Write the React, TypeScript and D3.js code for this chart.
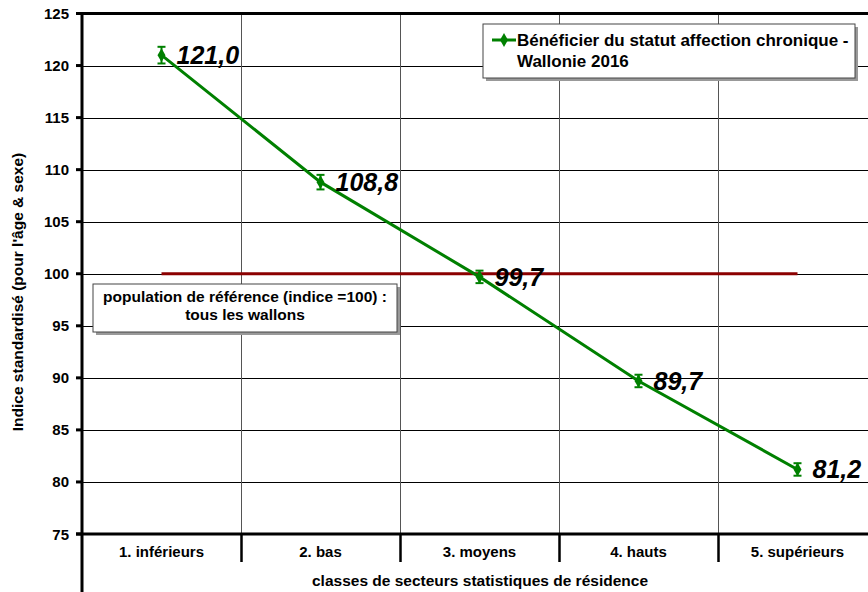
import * as d3 from "d3";
import { useEffect, useRef } from "react";

const categories = ["1. inférieurs", "2. bas", "3. moyens", "4. hauts", "5. supérieurs"];
const values = [121.0, 108.8, 99.7, 89.7, 81.2];
const errors = [0.8, 0.7, 0.6, 0.6, 0.6];
const yTicks = [75, 80, 85, 90, 95, 100, 105, 110, 115, 120, 125];
const refValue = 100;
const seriesName = ["Bénéficier du statut affection chronique -", "Wallonie 2016"];
const refNote = ["population de référence (indice =100) :", "tous les wallons"];

const FONT = "'Liberation Sans', Arial, sans-serif";
const GREEN = "#008000";
const DARKRED = "#8b0000";

export default function App() {
  const ref = useRef<SVGSVGElement | null>(null);

  useEffect(() => {
    const el = ref.current;
    if (!el) return;
    const svg = d3.select(el);
    svg.selectAll("*").remove();

    const W = 868;
    const H = 592;
    const left = 82;
    const top = 13.5;
    const right = 877;
    const bottom = 534;

    const x = d3.scaleBand<string>().domain(categories).range([left, right]);
    const y = d3.scaleLinear().domain([75, 125]).range([bottom, top]);
    const cx = (c: string) => (x(c) ?? 0) + x.bandwidth() / 2;

    svg.attr("viewBox", `0 0 ${W} ${H}`).attr("width", W).attr("height", H);
    svg.append("rect").attr("width", W).attr("height", H).attr("fill", "#fff");

    // horizontal grid
    svg
      .append("g")
      .attr("shape-rendering", "crispEdges")
      .selectAll("line")
      .data(yTicks)
      .join("line")
      .attr("x1", left)
      .attr("x2", W)
      .attr("y1", (d) => Math.round(y(d)) + 0.5)
      .attr("y2", (d) => Math.round(y(d)) + 0.5)
      .attr("stroke", "#000")
      .attr("stroke-width", 1);

    // vertical grid at category boundaries
    const bounds = categories.slice(1).map((c) => Math.round(x(c) ?? 0) + 0.5);
    svg
      .append("g")
      .attr("shape-rendering", "crispEdges")
      .selectAll("line")
      .data(bounds)
      .join("line")
      .attr("x1", (d) => d)
      .attr("x2", (d) => d)
      .attr("y1", top)
      .attr("y2", bottom)
      .attr("stroke", "#555")
      .attr("stroke-width", 1);

    // category dividers below axis
    svg
      .append("g")
      .selectAll("line")
      .data(bounds)
      .join("line")
      .attr("x1", (d) => d)
      .attr("x2", (d) => d)
      .attr("y1", bottom)
      .attr("y2", 562)
      .attr("stroke", "#000")
      .attr("stroke-width", 2.5);

    // frame lines
    svg.append("line").attr("x1", left).attr("x2", W).attr("y1", top).attr("y2", top)
      .attr("stroke", "#000").attr("stroke-width", 3);
    svg.append("line").attr("x1", left - 6).attr("x2", W).attr("y1", bottom).attr("y2", bottom)
      .attr("stroke", "#000").attr("stroke-width", 3);
    svg.append("line").attr("x1", left).attr("x2", left).attr("y1", top - 1.5).attr("y2", H)
      .attr("stroke", "#000").attr("stroke-width", 3);

    // y ticks
    const yg = svg.append("g");
    yg.selectAll("line")
      .data(yTicks)
      .join("line")
      .attr("x1", left - 6)
      .attr("x2", left)
      .attr("y1", (d) => y(d))
      .attr("y2", (d) => y(d))
      .attr("stroke", "#000")
      .attr("stroke-width", 3);
    yg.selectAll("text")
      .data(yTicks)
      .join("text")
      .attr("x", 69)
      .attr("y", (d) => y(d) + 5.5)
      .attr("text-anchor", "end")
      .attr("font-family", FONT)
      .attr("font-weight", "bold")
      .attr("font-size", 15)
      .text((d) => d);

    // category labels
    svg
      .append("g")
      .selectAll("text")
      .data(categories)
      .join("text")
      .attr("x", (d) => cx(d))
      .attr("y", 557)
      .attr("text-anchor", "middle")
      .attr("font-family", FONT)
      .attr("font-weight", "bold")
      .attr("font-size", 15)
      .text((d) => d);

    svg.append("text")
      .attr("x", 480)
      .attr("y", 586)
      .attr("text-anchor", "middle")
      .attr("font-family", FONT)
      .attr("font-weight", "bold")
      .attr("font-size", 15.5)
      .text("classes de secteurs statistiques de résidence");

    svg.append("text")
      .attr("transform", `translate(23,292) rotate(-90)`)
      .attr("text-anchor", "middle")
      .attr("font-family", FONT)
      .attr("font-weight", "bold")
      .attr("font-size", 15.5)
      .text("Indice standardisé (pour l'âge & sexe)");

    // reference line
    svg.append("line")
      .attr("x1", cx(categories[0]))
      .attr("x2", cx(categories[categories.length - 1]))
      .attr("y1", y(refValue))
      .attr("y2", y(refValue))
      .attr("stroke", DARKRED)
      .attr("stroke-width", 3);

    // series line
    const pts = categories.map((c, i) => ({ c, v: values[i], e: errors[i] }));
    const line = d3.line<{ c: string; v: number }>().x((d) => cx(d.c)).y((d) => y(d.v));
    svg.append("path")
      .datum(pts)
      .attr("d", line)
      .attr("fill", "none")
      .attr("stroke", GREEN)
      .attr("stroke-width", 3);

    // error bars
    const eg = svg.append("g").attr("stroke", GREEN).attr("stroke-width", 2);
    pts.forEach((p) => {
      const px = cx(p.c);
      eg.append("line").attr("x1", px).attr("x2", px).attr("y1", y(p.v + p.e)).attr("y2", y(p.v - p.e));
      eg.append("line").attr("x1", px - 4).attr("x2", px + 4).attr("y1", y(p.v + p.e)).attr("y2", y(p.v + p.e));
      eg.append("line").attr("x1", px - 4).attr("x2", px + 4).attr("y1", y(p.v - p.e)).attr("y2", y(p.v - p.e));
    });

    const diamond = d3.symbol().type(d3.symbolDiamond).size(55);
    svg.append("g")
      .selectAll("path")
      .data(pts)
      .join("path")
      .attr("d", diamond)
      .attr("transform", (d) => `translate(${cx(d.c)},${y(d.v)})`)
      .attr("fill", GREEN);

    // value labels
    svg.append("g")
      .selectAll("text")
      .data(pts)
      .join("text")
      .attr("x", (d) => cx(d.c) + 15)
      .attr("y", (d) => y(d.v) + 9)
      .attr("font-family", FONT)
      .attr("font-weight", "bold")
      .attr("font-style", "italic")
      .attr("font-size", 25)
      .attr("fill", "#000")
      .text((d) => d3.format(".1f")(d.v).replace(".", ","));

    // legend
    const lg = svg.append("g");
    lg.append("rect").attr("x", 486).attr("y", 27).attr("width", 372).attr("height", 54).attr("fill", "#999");
    lg.append("rect").attr("x", 483).attr("y", 24).attr("width", 372).attr("height", 54)
      .attr("fill", "#fff").attr("stroke", "#444").attr("stroke-width", 1);
    lg.append("line").attr("x1", 492).attr("x2", 516).attr("y1", 40).attr("y2", 40)
      .attr("stroke", GREEN).attr("stroke-width", 3);
    lg.append("path").attr("d", diamond).attr("transform", "translate(504,40)").attr("fill", GREEN);
    lg.selectAll("text.l")
      .data(seriesName)
      .join("text")
      .attr("class", "l")
      .attr("x", 517)
      .attr("y", (_, i) => 46 + i * 21)
      .attr("font-family", FONT)
      .attr("font-weight", "bold")
      .attr("font-size", 17)
      .text((d) => d);

    // reference note box
    const rg = svg.append("g");
    rg.append("rect").attr("x", 96).attr("y", 287).attr("width", 304).attr("height", 48).attr("fill", "#999");
    rg.append("rect").attr("x", 93).attr("y", 284).attr("width", 304).attr("height", 48)
      .attr("fill", "#fff").attr("stroke", "#444").attr("stroke-width", 1);
    rg.selectAll("text")
      .data(refNote)
      .join("text")
      .attr("x", 245)
      .attr("y", (_, i) => 302 + i * 18)
      .attr("text-anchor", "middle")
      .attr("font-family", FONT)
      .attr("font-weight", "bold")
      .attr("font-size", 15.5)
      .text((d) => d);
  }, []);

  return <svg ref={ref} style={{ position: "absolute", left: 0, top: 0, display: "block" }} />;
}
